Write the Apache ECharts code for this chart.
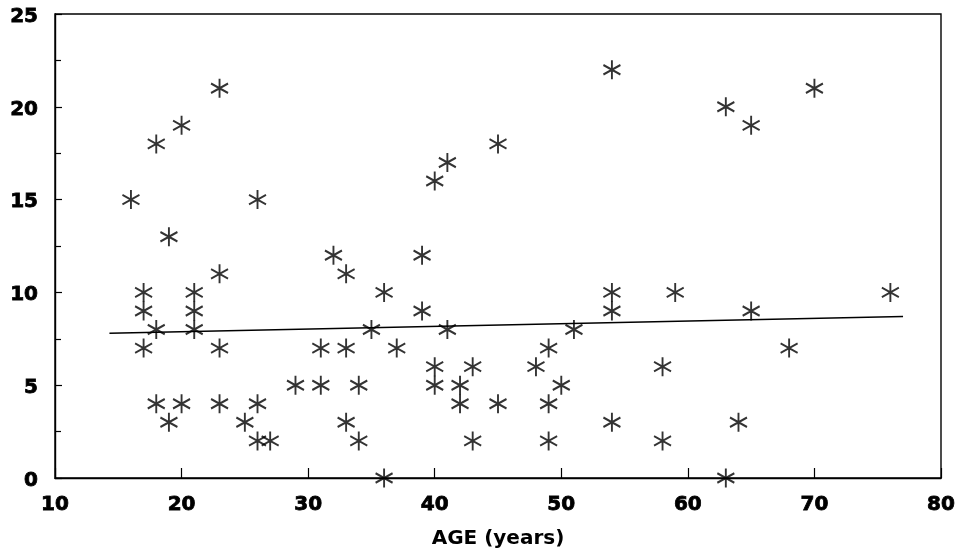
<!DOCTYPE html>
<html>
<head>
<meta charset="utf-8">
<script src="https://cdn.jsdelivr.net/npm/echarts@6/dist/echarts.min.js"></script>
<style>
  html, body { margin: 0; padding: 0; background: #fff; }
  #chart { width: 963px; height: 551px; }
</style>
</head>
<body>
<div id="chart"></div>
<script>
// 年龄 (x) 和 数值 (y)，从图上读出来的
const ages = [16, 18, 20, 23, 19, 26, 17, 17, 17, 18, 18, 19, 20, 21, 21, 21, 23, 23, 23, 25,
  26, 26, 27, 29, 31, 31, 32, 33, 33, 33, 34, 34, 35, 36, 36, 37, 39, 39, 40, 40,
  40, 41, 41, 42, 42, 43, 43, 45, 45, 48, 49, 49, 49, 50, 51, 54, 54, 54, 54, 59,
  58, 58, 65, 68, 64, 63, 76, 63, 65, 70];
const values = [15, 18, 19, 21, 13, 15, 10, 9, 7, 8, 4, 3, 4, 10, 9, 8, 11, 7, 4, 3,
  4, 2, 2, 5, 5, 7, 12, 11, 7, 3, 2, 5, 8, 10, 0, 7, 12, 9, 5, 6,
  16, 8, 17, 4, 5, 6, 2, 4, 18, 6, 7, 4, 2, 5, 8, 10, 9, 3, 22, 10,
  6, 2, 9, 7, 3, 0, 10, 20, 19, 21];
// 回归线的两个端点
const lineX = [14.3, 77];
const lineY = [7.8, 8.7];

const points = ages.map((a, i) => [a, values[i]]);
const fitLine = lineX.map((x, i) => [x, lineY[i]]);

// 刻度字体，加粗（再描一圈边，看起来更黑）
const boldNum = {
  fontFamily: 'DejaVu Sans', fontWeight: 'bold', fontSize: 20, color: '#000',
  textBorderColor: '#000', textBorderWidth: 0.8
};

const myChart = echarts.init(document.getElementById('chart'));
myChart.setOption({
  backgroundColor: '#fff',
  animation: false,
  grid: {
    left: 55, right: 22, top: 14, bottom: 73,
    outerBoundsMode: 'none',
    show: true,
    borderColor: '#000',
    borderWidth: 1.4,
    backgroundColor: '#fff'
  },
  xAxis: {
    type: 'value',
    min: 10, max: 80, interval: 10,
    name: 'AGE (years)',
    nameLocation: 'middle',
    nameGap: 51,
    nameTextStyle: { fontFamily: 'DejaVu Sans', fontWeight: 'bold', fontSize: 20, color: '#000' },
    axisLine: { lineStyle: { color: '#000', width: 1.4 } },
    axisTick: { inside: true, length: 10, lineStyle: { color: '#000', width: 1.2 } },
    axisLabel: Object.assign({ margin: 17 }, boldNum),
    splitLine: { show: false }
  },
  yAxis: {
    type: 'value',
    min: 0, max: 25, interval: 5,
    axisLine: { show: true, lineStyle: { color: '#000', width: 1.4 } },
    axisTick: { show: true, inside: true, length: 7, lineStyle: { color: '#000', width: 1.2 } },
    minorTick: { show: true, splitNumber: 2, length: 6, lineStyle: { color: '#000', width: 1.2 } },
    axisLabel: {
      margin: 17,
      padding: [5, 0, 0, 0],
      formatter: v => '{b|' + v + '}',
      rich: { b: boldNum }
    },
    splitLine: { show: false }
  },
  series: [
    {
      type: 'scatter',
      data: points,
      symbol: 'path://M0,-10L0,10M-8.66,-5L8.66,5M-8.66,5L8.66,-5',
      symbolSize: [17, 19],
      itemStyle: { color: 'rgba(0,0,0,0)', borderColor: '#000', borderWidth: 2 },
      z: 3
    },
    {
      type: 'line',
      data: fitLine,
      showSymbol: false,
      lineStyle: { color: '#000', width: 1.6 },
      z: 2
    }
  ]
});
</script>
</body>
</html>
